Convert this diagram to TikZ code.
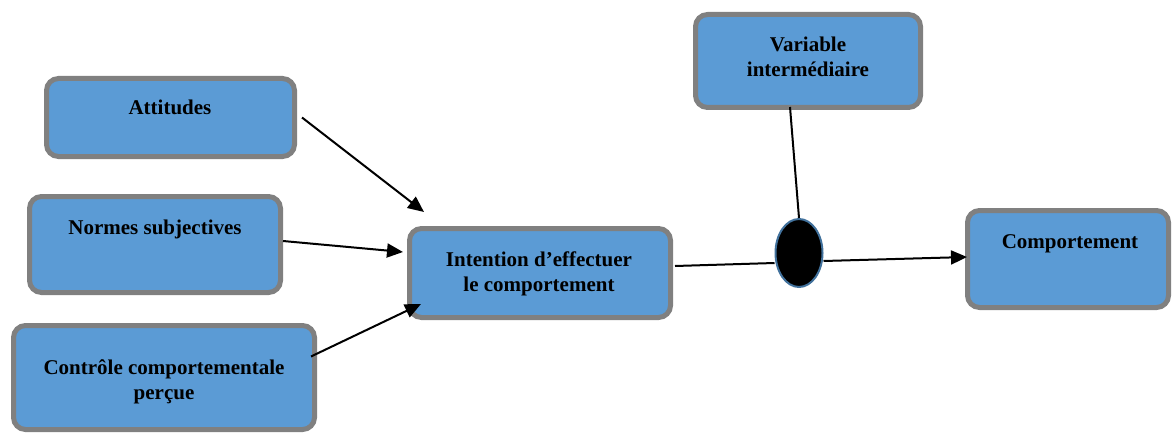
\documentclass[tikz,border=0pt]{standalone}
\usepackage{fontspec}
\setmainfont{Liberation Serif}
\usetikzlibrary{arrows.meta,shapes.geometric,calc}
\definecolor{boxfill}{HTML}{5B9BD5}
\definecolor{boxline}{HTML}{808080}
\definecolor{ellline}{HTML}{41719C}
\tikzset{
  box/.style={draw=boxline, fill=boxfill, line width=5pt, rounded corners=12pt, inner sep=0pt},
  lbl/.style={font=\fontsize{21}{25.5}\selectfont\bfseries, align=center, inner sep=0pt},
  conn/.style={line width=2pt, draw=black},
  arr/.style={conn, -{Triangle[length=16pt,width=14pt]}},
  junction/.style={ellipse, fill=black, draw=ellline, line width=2pt, inner sep=0pt}
}
\begin{document}
\begin{tikzpicture}[x=1pt,y=-1pt]
\useasboundingbox (0,0) rectangle (1172,433);
% boxes
\node[box, minimum width=248pt, minimum height=78pt] (att) at (170.5,117.5) {};
\node[box, minimum width=251pt, minimum height=96pt] (nor) at (155,244.5) {};
\node[box, minimum width=301pt, minimum height=104pt] (con) at (164,377.5) {};
\node[box, minimum width=261pt, minimum height=89pt] (int) at (540,273) {};
\node[box, minimum width=225pt, minimum height=93pt] (var) at (808,61) {};
\node[box, minimum width=201pt, minimum height=97pt] (kom) at (1068,259) {};
\node[junction, minimum width=47pt, minimum height=68pt] (ell) at (799,253) {};
% labels
\node[lbl, anchor=base] (attT) at (170,115) {Attitudes};
\node[lbl, anchor=base] (norT) at (155,234) {Normes subjectives};
\node[lbl, anchor=base] (komT) at (1070,248) {Comportement};
\node[lbl] (intT) at (539,273.9) {Intention d’effectuer\\le comportement};
\node[lbl] (varT) at (808,56.6) {Variable\\intermédiaire};
\node[lbl] (conT) at (164,381.9) {Contrôle comportementale\\perçue};
% connectors
\draw[arr] ([xshift=5pt]att.east) -- ([xshift=17pt,yshift=14pt]int.north west);
\draw[arr] ([yshift=3.5pt]nor.east) -- ([xshift=-4pt,yshift=21pt]int.west);
\draw[arr] ([xshift=-6pt,yshift=21pt]con.east) -- ([xshift=14pt,yshift=16pt]int.south west);
\draw[conn] ([xshift=2pt,yshift=7pt]int.east) -- ([yshift=-10pt]ell.west);
\draw[arr] ([yshift=-8pt]ell.east) -- ([xshift=2pt,yshift=2pt]kom.west);
\draw[conn] ([xshift=-18pt,yshift=3pt]var.south) -- (ell.north);
\end{tikzpicture}
\end{document}
